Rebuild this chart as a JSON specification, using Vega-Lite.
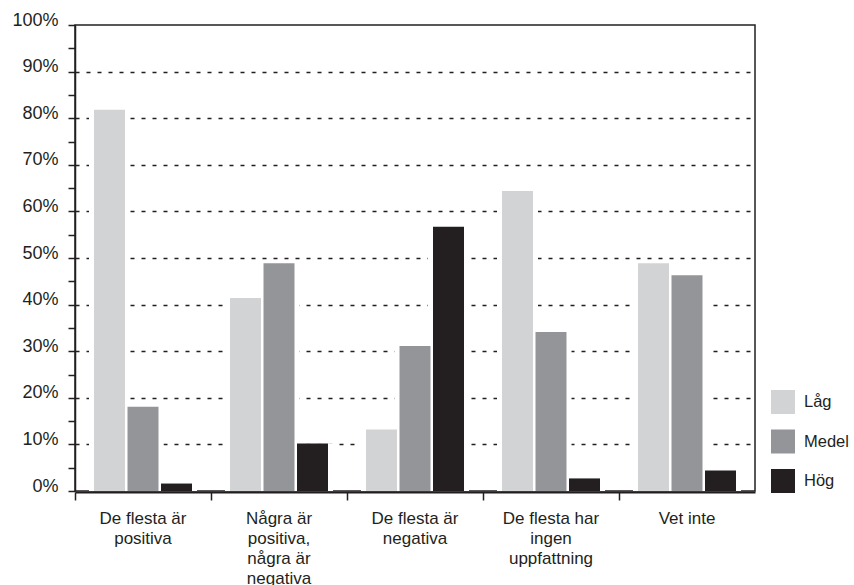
{
  "$schema": "https://vega.github.io/schema/vega-lite/v6.json",
  "width": 680,
  "height": 466,
  "autosize": {"type": "none"},
  "padding": {"left": 75, "top": 25, "right": 99, "bottom": 94},
  "title": {
    "text": "bekantas inställning till judar. Vuxna (16–75 år).",
    "anchor": "start",
    "frame": "group",
    "baseline": "alphabetic",
    "offset": 21.5,
    "dx": -2,
    "font": "Liberation Sans",
    "fontSize": 15,
    "fontWeight": "normal",
    "color": "#231f20"
  },
  "config": {
    "view": {"stroke": "#231f20", "strokeWidth": 1.5},
    "font": "Liberation Sans",
    "axis": {
      "domainColor": "#231f20",
      "domainWidth": 1.5,
      "tickColor": "#231f20",
      "tickWidth": 1.5,
      "labelColor": "#231f20",
      "labelFont": "Liberation Sans",
      "labelFontSize": 17,
      "title": null
    },
    "legend": {
      "labelFont": "Liberation Sans",
      "labelFontSize": 16.5,
      "labelColor": "#231f20"
    }
  },
  "data": {
    "values": [
      {"svar": "De flesta är positiva", "grupp": "Låg", "andel": 81.8},
      {"svar": "De flesta är positiva", "grupp": "Medel", "andel": 18.1},
      {"svar": "De flesta är positiva", "grupp": "Hög", "andel": 1.6},
      {"svar": "Några är positiva, några är negativa", "grupp": "Låg", "andel": 41.4},
      {"svar": "Några är positiva, några är negativa", "grupp": "Medel", "andel": 48.9},
      {"svar": "Några är positiva, några är negativa", "grupp": "Hög", "andel": 10.2},
      {"svar": "De flesta är negativa", "grupp": "Låg", "andel": 13.2},
      {"svar": "De flesta är negativa", "grupp": "Medel", "andel": 31.1},
      {"svar": "De flesta är negativa", "grupp": "Hög", "andel": 56.7},
      {"svar": "De flesta har ingen uppfattning", "grupp": "Låg", "andel": 64.4},
      {"svar": "De flesta har ingen uppfattning", "grupp": "Medel", "andel": 34.1},
      {"svar": "De flesta har ingen uppfattning", "grupp": "Hög", "andel": 2.7},
      {"svar": "Vet inte", "grupp": "Låg", "andel": 48.9},
      {"svar": "Vet inte", "grupp": "Medel", "andel": 46.3},
      {"svar": "Vet inte", "grupp": "Hög", "andel": 4.4}
    ]
  },
  "encoding": {
    "x": {
      "field": "svar",
      "type": "nominal",
      "sort": null,
      "scale": {"paddingInner": 0, "paddingOuter": 0},
      "axis": {
        "zindex": 1,
        "offset": 1,
        "domainWidth": 2,
        "labelAngle": 0,
        "bandPosition": 0,
        "tickSize": 8,
        "labelPadding": 10,
        "labelBaseline": "top",
        "labelLineHeight": 20,
        "labelAlign": "center",
        "labelExpr": "datum.value == 'De flesta är positiva' ? ['De flesta är', 'positiva'] : datum.value == 'Några är positiva, några är negativa' ? ['Några är', 'positiva,', 'några är', 'negativa'] : datum.value == 'De flesta är negativa' ? ['De flesta är', 'negativa'] : datum.value == 'De flesta har ingen uppfattning' ? ['De flesta har', 'ingen', 'uppfattning'] : datum.value"
      }
    },
    "xOffset": {
      "field": "grupp",
      "type": "nominal",
      "sort": ["Låg", "Medel", "Hög"],
      "scale": {"paddingInner": 0.0746, "paddingOuter": 0.567}
    },
    "y": {
      "field": "andel",
      "type": "quantitative",
      "scale": {"domain": [0, 100], "nice": false},
      "axis": {
        "values": [0, 5, 10, 15, 20, 25, 30, 35, 40, 45, 50, 55, 60, 65, 70, 75, 80, 85, 90, 95, 100],
        "labelExpr": "datum.value % 10 == 0 ? datum.value + '%' : ''",
        "labelOverlap": false,
        "labelBaseline": "alphabetic",
        "labelPadding": 10,
        "labelFontSize": 18,
        "tickSize": 7,
        "grid": true,
        "gridColor": "#231f20",
        "gridWidth": 1.5,
        "gridDash": [4, 7],
        "gridOpacity": {"condition": {"test": "datum.value % 10 == 0 && datum.value > 0 && datum.value < 100", "value": 1}, "value": 0}
      }
    }
  },
  "layer": [
    {
      "mark": {"type": "bar", "fill": "white", "stroke": "white", "strokeWidth": 10, "yOffset": 5, "clip": true}
    },
    {
      "mark": {"type": "bar"},
      "encoding": {
        "color": {
          "field": "grupp",
          "type": "nominal",
          "scale": {"domain": ["Låg", "Medel", "Hög"], "range": ["#d1d3d4", "#939598", "#231f20"]},
          "legend": {
            "title": null,
            "orient": "none",
            "legendX": 696,
            "legendY": 365,
            "padding": 0,
            "symbolType": "square",
            "symbolSize": 576,
            "symbolStrokeWidth": 0,
            "rowPadding": 15.5,
            "labelOffset": 9
          }
        }
      }
    }
  ]
}
